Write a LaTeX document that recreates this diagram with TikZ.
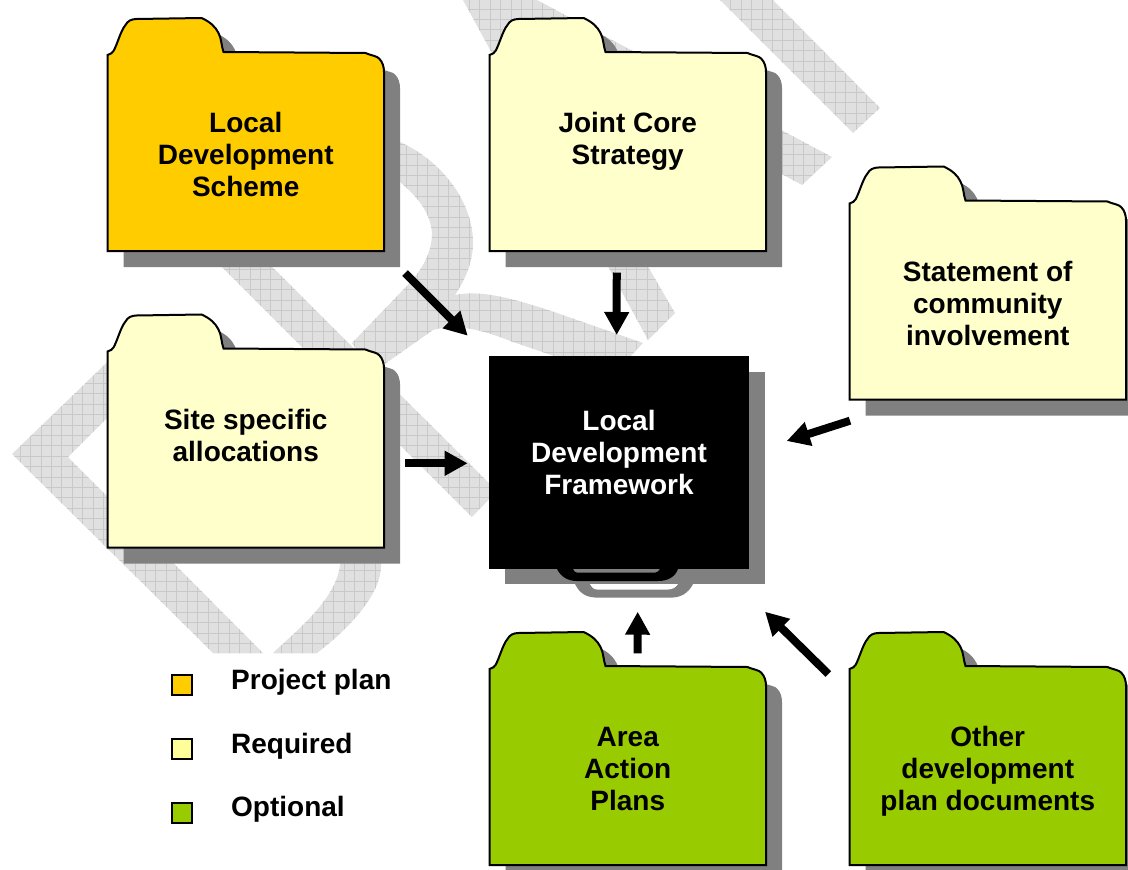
\documentclass[tikz,border=0pt]{standalone}
\usepackage{fontspec}
\setmainfont{Liberation Sans}
\usetikzlibrary{arrows.meta}

\definecolor{planyellow}{HTML}{FFCC00}
\definecolor{reqyellow}{HTML}{FFFFCC}
\definecolor{keyyellow}{HTML}{FFFF99}
\definecolor{optgreen}{HTML}{99CC00}
\definecolor{shadowgray}{HTML}{808080}
\definecolor{wmfill}{HTML}{E0E0E0}
\definecolor{wmrule}{HTML}{C9C9C9}

\newcommand{\wmgrid}{%
    \foreach \k in {0,...,108} \draw[wmrule,line width=0.8pt] ({-0.9+10.45*\k},0) -- ({-0.9+10.45*\k},870);
    \foreach \k in {0,...,84} \draw[wmrule,line width=0.8pt] (0,{-1.5+10.4*\k}) -- (1128,{-1.5+10.4*\k});
}

\tikzset{
    wmark/.style={fill=wmfill,path picture={\wmgrid}},
    folderbox/.style={minimum width=276.5pt,minimum height=233pt,inner sep=0pt,outer sep=0pt},
    foldertext/.style={anchor=north,align=center,inner sep=0pt,font=\fontsize{28}{32}\selectfont\bfseries},
    folderedge/.style={draw=black,line width=2pt},
    shadowfill/.style={fill=shadowgray},
    thickarrow/.style={line width=8pt,-{Triangle[length=23pt,width=23.5pt]}},
    keybox/.style={draw=black,line width=2pt,minimum size=20pt,inner sep=0pt,outer sep=0pt},
    keytext/.style={anchor=base west,inner sep=0pt,font=\fontsize{28}{32}\selectfont\bfseries}
}

\newcommand{\folderpath}{(0,37) .. controls (3,36) and (5,35) .. (6,33) .. controls (10,26) and (13,13) .. (18,7)
    .. controls (20,3) and (24,1) .. (29,1) -- (94,0) .. controls (103,4) and (108,9) .. (111,15)
    .. controls (114,20) and (114,29) .. (116,34) -- (258,35) .. controls (265,38) and (270,38) .. (272,41)
    .. controls (275,44) and (276.5,49) .. (276.5,54) -- (276.5,233) -- (0,233) -- cycle}

\newcommand{\folder}[4]{%
    \begin{scope}[shift={(#2)}]
        \path[shadowfill,shift={(16,16)}] \folderpath;
        \path[folderedge,fill=#3] \folderpath;
        \node[folderbox] (#1) at (138.25,116.5) {};
        \node[foldertext] (#1-text) at (138.25,93.5) {\rule{0pt}{21pt}#4};
    \end{scope}
}

\begin{document}
\begin{tikzpicture}[x=1pt,y=-1pt]

    \useasboundingbox (0,0) rectangle (1128,870);
    \clip (0,0) rectangle (1128,870);

    % faint letters behind everything
    \path[wmark] (12,454) -- (125,345) -- (160,360) -- (130,395) -- (68,457) -- (263,653) -- (213,653) -- cycle;
    \path[wmark] (273,653) .. controls (295,632) and (336,600) .. (340,565) -- (340,540) -- (381,540) -- (381,567)
        .. controls (380,595) and (350,628) .. (317,653) -- cycle;
    \path[wmark] (150,195) -- (200,195) -- (497,491) -- (472,517) -- cycle;
    \path[wmark] (390,138) -- (400,142) .. controls (440,160) and (473,200) .. (473,243) .. controls (473,262) and (465,280) .. (455,295)
        .. controls (480,290) and (510,297) .. (557,313) -- (643,343) -- (630,357) -- (557,357) -- (513,342)
        .. controls (490,333) and (460,322) .. (433,330) -- (372,373) -- (352,343) -- (403,290)
        .. controls (420,273) and (432,255) .. (432,233) .. controls (430,210) and (415,195) .. (400,182) -- (390,175) -- cycle;
    \path[wmark] (463,0) -- (503,18) -- (675,313) -- (648,340) -- cycle;
    \path[wmark] (463,0) -- (537,0) -- (832,157) -- (802,185) -- (510,28) -- (500,20) -- cycle;
    \path[wmark] (720,0) -- (773,0) -- (880,108) -- (853,133) -- cycle;

    \folder{lds}{107.5,18}{planyellow}{Local\\Development\\Scheme}
    \folder{jcs}{489.5,18}{reqyellow}{Joint Core\\Strategy}
    \folder{sci}{849.5,166.5}{reqyellow}{Statement of\\community\\involvement}
    \folder{ssa}{107.5,314.5}{reqyellow}{Site specific\\allocations}
    \folder{aap}{489.5,632}{optgreen}{Area\\Action\\Plans}
    \folder{odp}{849.5,632}{optgreen}{Other\\development\\plan documents}

    % binder and its clip
    \fill[shadowgray] (505,372) rectangle (765,584);
    \fill[shadowgray] (575,584) .. controls (578,590) and (583,597) .. (595,597.5) -- (673,597.5) .. controls (684,597) and (690,590) .. (693,584) -- cycle;
    \fill[white] (590,584) .. controls (592,587) and (593,589.5) .. (597,589.5) -- (668,589.5) .. controls (673,589.5) and (676,587) .. (678,584) -- cycle;
    \node[fill=black,minimum width=260pt,minimum height=213pt,inner sep=0pt,outer sep=0pt] (ldf) at (619,462.5) {};
    \fill[black] (557,569) .. controls (561,577) and (568,581) .. (577,581) -- (658,581) .. controls (668,581) and (675,577) .. (678,569)
        -- (660,569) .. controls (659,571) and (657,572.7) .. (655,572.7) -- (577,572.7) .. controls (575,572.7) and (574,571) .. (573,569) -- cycle;
    \node[foldertext,text=white] (ldf-text) at (619,409.5) {\rule{0pt}{21pt}Local\\Development\\Framework};

    \draw[thickarrow] ([shift={(21,22)}]lds.south east) -- ([shift={(-21.3,-20.3)}]ldf.north west);
    \draw[thickarrow] ([shift={(-11,21.5)}]jcs.south) -- ([shift={(-2.3,-21)}]ldf.north);
    \draw[thickarrow] ([shift={(0.5,21.2)}]sci.south west) -- ([shift={(37.7,-21.5)}]ldf.east);
    \draw[thickarrow] ([shift={(21,32.3)}]ssa.east) -- ([shift={(-21.3,0.8)}]ldf.west);
    \draw[thickarrow] ([shift={(9.75,21.3)}]aap.north) -- ([shift={(18.7,42.7)}]ldf.south);
    \draw[thickarrow] ([shift={(-21.2,42)}]odp.north west) -- ([shift={(16,42.7)}]ldf.south east);

    \foreach \n/\ypos/\col/\txt in {a/685/planyellow/Project plan,b/749/keyyellow/Required,c/812.5/optgreen/Optional} {
        \node[keybox,fill=\col] (key\n) at (182,\ypos) {};
        \node[keytext] (keytext\n) at (231,\ypos+4.2) {\txt};
    }

\end{tikzpicture}
\end{document}
